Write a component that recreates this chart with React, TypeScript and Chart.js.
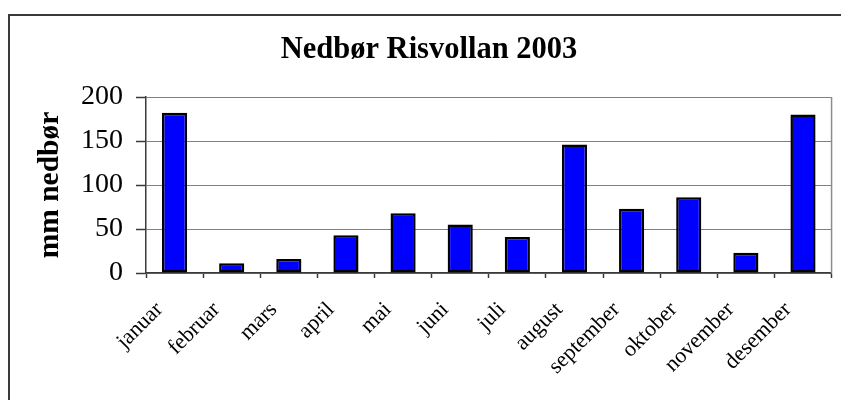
import React, { useEffect, useRef } from "react";
import { Chart, registerables } from "chart.js";

Chart.register(...registerables);

const months = [
  "januar", "februar", "mars", "april", "mai", "juni",
  "juli", "august", "september", "oktober", "november", "desember",
];
const precipitation = [182, 11, 16, 43, 68, 55, 41, 146, 73, 86, 23, 180];
const chartTitle = "Nedbør Risvollan 2003";
const yTitle = "mm nedbør";
const yMin = 0;
const yMax = 200;
const yStep = 50;

const SERIF = "'Liberation Serif', 'Times New Roman', Times, serif";

const framePlugin = {
  id: "frame",
  beforeDraw(chart: any) {
    const { ctx, width, height } = chart;
    ctx.save();
    ctx.fillStyle = "#ffffff";
    ctx.fillRect(0, 0, width, height);
    ctx.strokeStyle = "#3a3a3a";
    ctx.lineWidth = 2;
    ctx.beginPath();
    ctx.moveTo(9, height + 5);
    ctx.lineTo(9, 15);
    ctx.lineTo(width + 5, 15);
    ctx.stroke();
    ctx.restore();
  },
  afterDatasetsDraw(chart: any) {
    const { ctx, chartArea } = chart;
    ctx.save();
    ctx.strokeStyle = "#8c8c8c";
    ctx.lineWidth = 1.5;
    ctx.beginPath();
    ctx.moveTo(chartArea.right, chartArea.top);
    ctx.lineTo(chartArea.right, chartArea.bottom);
    ctx.stroke();
    ctx.restore();
  },
};

export default function App() {
  const ref = useRef<HTMLCanvasElement | null>(null);

  useEffect(() => {
    if (!ref.current) return;
    const chart = new Chart(ref.current, {
      type: "bar",
      data: {
        labels: months,
        datasets: [
          {
            data: precipitation,
            backgroundColor: "#0000ff",
            borderColor: "#000000",
            borderWidth: 2.5,
            borderSkipped: false,
            barPercentage: 0.44,
            categoryPercentage: 1,
          },
        ],
      },
      options: {
        responsive: false,
        animation: false,
        layout: { padding: { left: 25, right: 8, top: 0, bottom: 0 } },
        plugins: {
          legend: { display: false },
          tooltip: { enabled: false },
          title: {
            display: true,
            text: chartTitle,
            color: "#000000",
            font: { family: SERIF, size: 30.5, weight: "bold", lineHeight: 1.2 },
            padding: { top: 32, bottom: 28.4 },
          },
        },
        scales: {
          x: {
            offset: true,
            grid: {
              display: true,
              offset: true,
              drawOnChartArea: false,
              drawTicks: true,
              tickLength: 5,
              tickColor: "#3a3a3a",
              tickWidth: 1.5,
            },
            border: { display: true, color: "#3a3a3a", width: 1.5 },
            ticks: {
              autoSkip: false,
              minRotation: 45,
              maxRotation: 45,
              labelOffset: -15,
              padding: 19,
              color: "#000000",
              font: { family: SERIF, size: 22 },
            },
            afterFit(scale: any) {
              scale.height = 127;
            },
          },
          y: {
            min: yMin,
            max: yMax,
            ticks: {
              stepSize: yStep,
              padding: 13,
              color: "#000000",
              font: { family: SERIF, size: 28 },
            },
            grid: {
              color: "#808080",
              lineWidth: 1,
              tickLength: 10,
              tickColor: "#3a3a3a",
              tickWidth: 1.5,
            },
            border: { display: true, color: "#3a3a3a", width: 1.5 },
            title: {
              display: true,
              text: yTitle,
              color: "#000000",
              font: { family: SERIF, size: 29.5, weight: "bold", lineHeight: 1.2 },
              padding: { top: 8, bottom: 0 },
            },
            afterFit(scale: any) {
              scale.width = 121;
            },
          },
        },
      },
      plugins: [framePlugin],
    });
    return () => chart.destroy();
  }, []);

  return (
    <canvas
      ref={ref}
      width={841}
      height={400}
      style={{ position: "absolute", left: 0, top: 0, display: "block" }}
    />
  );
}
